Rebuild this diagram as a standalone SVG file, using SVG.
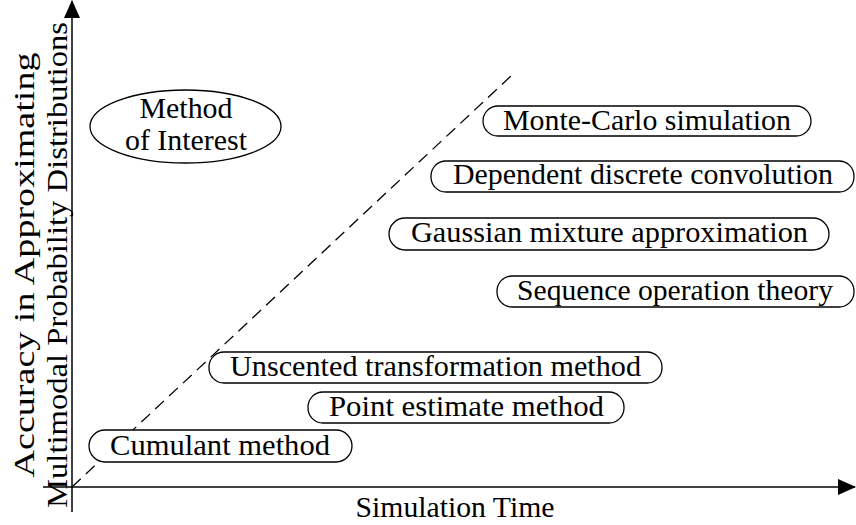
<svg xmlns="http://www.w3.org/2000/svg" width="856" height="525" viewBox="0 0 856 525">
<style>
.box{fill:#fff;stroke:#000;stroke-width:1.3}
.axis{stroke:#000;stroke-width:1.5;fill:none}
</style>
<defs>
<marker id="arr" markerWidth="18" markerHeight="16" refX="17" refY="8" orient="auto" markerUnits="userSpaceOnUse">
<path d="M0,0 L18,8 L0,16 Z" fill="#000"/>
</marker>
</defs>
<rect width="856" height="525" fill="#fff"/>
<g id="connectors">
<line class="axis" x1="72" y1="512" x2="72" y2="1" marker-end="url(#arr)"/>
<line class="axis" x1="43" y1="487" x2="855" y2="487" marker-end="url(#arr)"/>
<line x1="72" y1="487" x2="512" y2="75" stroke="#000" stroke-width="1.3" stroke-dasharray="12,7"/>
</g>
<g id="ylabel">
<text transform="translate(34,265) rotate(-90)" font-family="Liberation Serif" font-size="29" text-anchor="middle" textLength="425" lengthAdjust="spacingAndGlyphs">Accuracy in Approximating</text>
<text transform="translate(67,265) rotate(-90)" font-family="Liberation Serif" font-size="29" text-anchor="middle" textLength="486" lengthAdjust="spacingAndGlyphs">Multimodal Probability Distributions</text>
</g>
<g id="xlabel"><text x="455" y="517" font-family="Liberation Serif" font-size="29" text-anchor="middle" textLength="199" lengthAdjust="spacingAndGlyphs">Simulation Time</text></g>
<g id="interest">
<ellipse class="box" cx="185.5" cy="126.5" rx="95.5" ry="36.5"/>
<text x="186" y="118" font-family="Liberation Serif" font-size="29" text-anchor="middle" textLength="93" lengthAdjust="spacingAndGlyphs">Method</text>
<text x="186" y="150" font-family="Liberation Serif" font-size="29" text-anchor="middle" textLength="122" lengthAdjust="spacingAndGlyphs">of Interest</text>
</g>
<g id="mc"><rect class="box" x="483" y="106" width="328" height="30" rx="15"/><text x="647" y="130" font-family="Liberation Serif" font-size="29" text-anchor="middle" textLength="288" lengthAdjust="spacingAndGlyphs">Monte-Carlo simulation</text></g>
<g id="ddc"><rect class="box" x="431" y="161" width="423" height="31" rx="15"/><text x="643" y="184" font-family="Liberation Serif" font-size="29" text-anchor="middle" textLength="380" lengthAdjust="spacingAndGlyphs">Dependent discrete convolution</text></g>
<g id="gma"><rect class="box" x="389" y="218" width="440" height="32" rx="16"/><text x="609.5" y="242" font-family="Liberation Serif" font-size="29" text-anchor="middle" textLength="397" lengthAdjust="spacingAndGlyphs">Gaussian mixture approximation</text></g>
<g id="sot"><rect class="box" x="497" y="276" width="357" height="31" rx="15"/><text x="675" y="300" font-family="Liberation Serif" font-size="29" text-anchor="middle" textLength="316" lengthAdjust="spacingAndGlyphs">Sequence operation theory</text></g>
<g id="ut"><rect class="box" x="209" y="352" width="453" height="31" rx="15"/><text x="435.5" y="376" font-family="Liberation Serif" font-size="29" text-anchor="middle" textLength="411" lengthAdjust="spacingAndGlyphs">Unscented transformation method</text></g>
<g id="pe"><rect class="box" x="308" y="392" width="316" height="31" rx="15"/><text x="466.5" y="416" font-family="Liberation Serif" font-size="29" text-anchor="middle" textLength="275" lengthAdjust="spacingAndGlyphs">Point estimate method</text></g>
<g id="cm"><rect class="box" x="89" y="430" width="263" height="32" rx="16"/><text x="220" y="455" font-family="Liberation Serif" font-size="29" text-anchor="middle" textLength="220" lengthAdjust="spacingAndGlyphs">Cumulant method</text></g>
</svg>
